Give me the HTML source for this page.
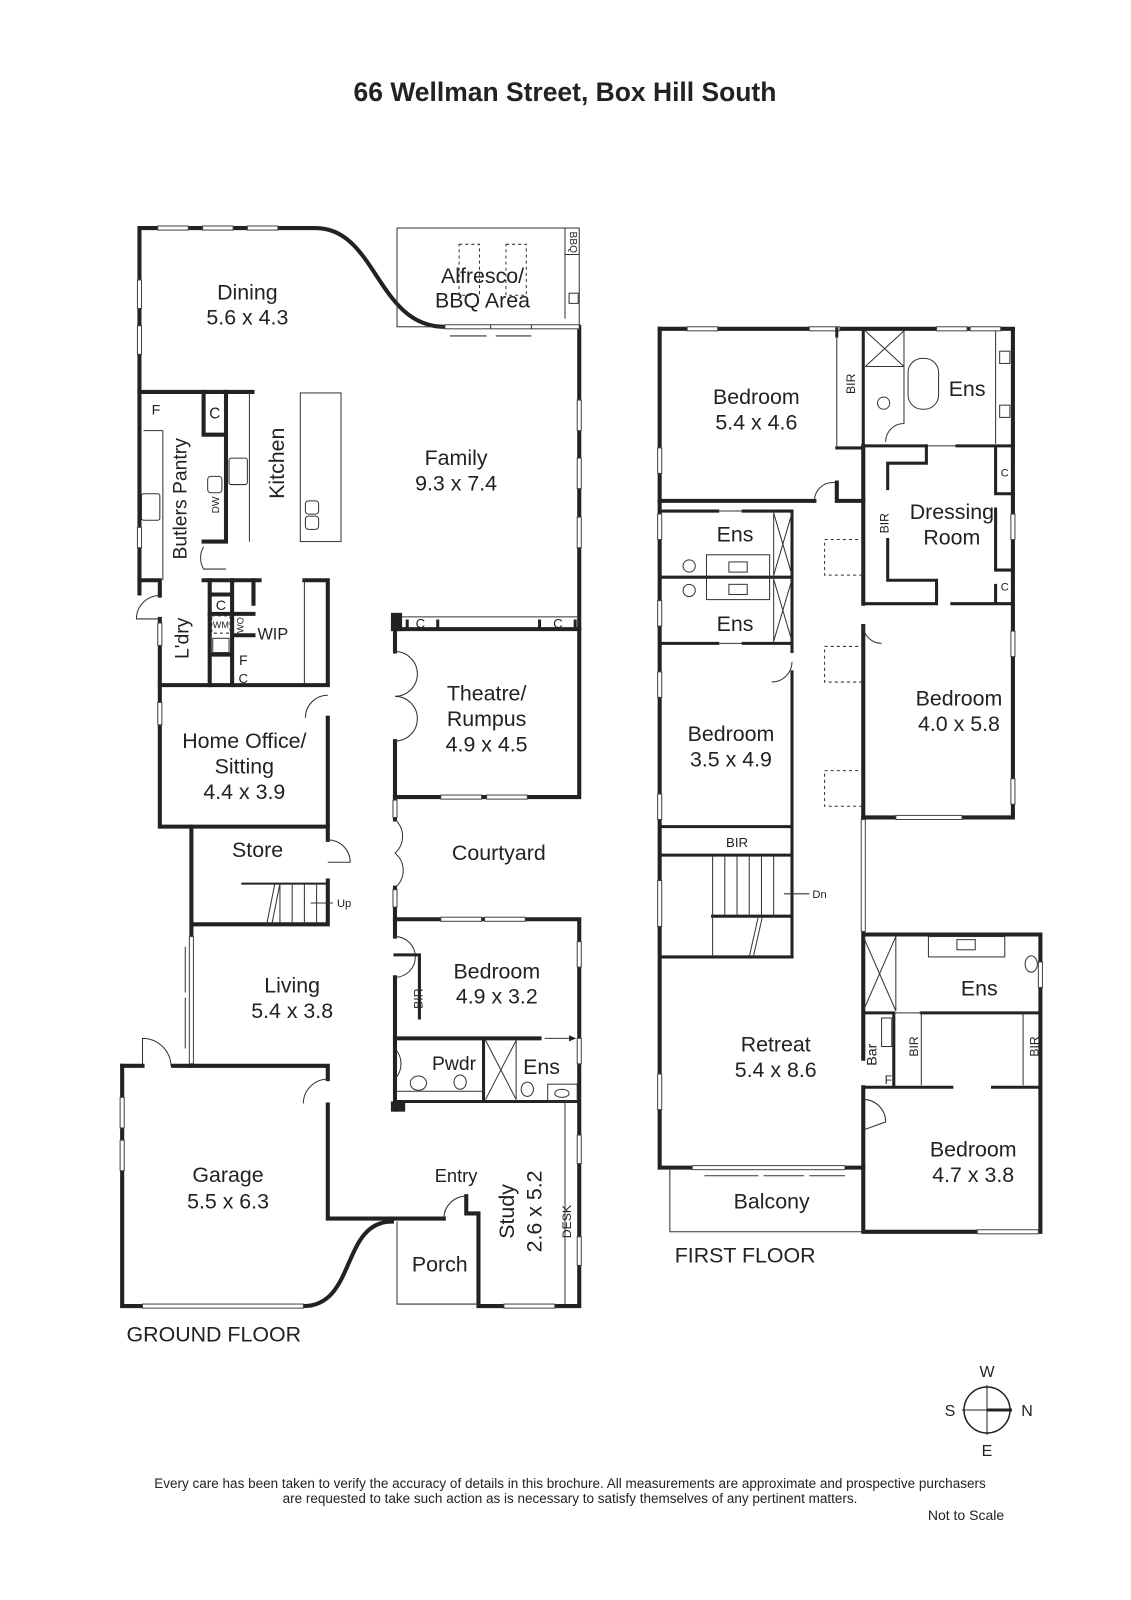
<!DOCTYPE html>
<html><head><meta charset="utf-8"><style>
html,body{margin:0;padding:0;background:#fff}
svg{display:block}
text{font-family:"Liberation Sans",sans-serif;fill:#222}
.w{fill:none;stroke:#222;stroke-width:4;stroke-linecap:square}
.t{fill:none;stroke:#333;stroke-width:1}
.d{fill:none;stroke:#333;stroke-width:1;stroke-dasharray:3 3}
.win{fill:#fff;stroke:#444;stroke-width:1}
.lb{font-size:21px;text-anchor:middle}
.sm{font-size:13px;text-anchor:middle}
</style></head><body>
<svg width="1131" height="1600" viewBox="0 0 1131 1600" xmlns="http://www.w3.org/2000/svg">
<g transform="scale(1.018)">
<text x="555" y="99" style="font-size:26px;font-weight:bold;text-anchor:middle">66 Wellman Street, Box Hill South</text>

<!-- GROUND FLOOR -->
<path class="w" d="M137,583 L137,224 L310,224 C370,224 370,321 437,321"/>
<path class="w" d="M569,321 L569,783 L388,783"/>
<rect class="t" x="390" y="224" width="179" height="97"/>
<line class="t" x1="555" y1="224" x2="555" y2="313"/>
<line class="t" x1="555" y1="250" x2="569" y2="250"/>
<rect class="t" x="559" y="288" width="9" height="10"/>
<rect class="d" x="451" y="240" width="20" height="50"/>
<rect class="d" x="497" y="240" width="20" height="50"/>
<text x="560" y="238" class="sm" style="font-size:10px" transform="rotate(90 560 238)">BBQ</text>
<rect class="win" x="437" y="319" width="132" height="4"/>
<line class="t" x1="482" y1="319" x2="482" y2="323"/>
<line class="t" x1="522" y1="319" x2="522" y2="323"/>
<path class="t" d="M442,330 L478,330 M487,330 L522,330"/>
<rect class="win" x="155" y="222" width="30" height="4"/>
<rect class="win" x="199" y="222" width="30" height="4"/>
<rect class="win" x="243" y="222" width="30" height="4"/>
<rect class="win" x="135" y="275" width="4" height="28"/>
<rect class="win" x="135" y="320" width="4" height="28"/>
<rect class="win" x="135" y="518" width="4" height="20"/>
<rect class="win" x="567" y="393" width="4" height="30"/>
<rect class="win" x="567" y="450" width="4" height="30"/>
<rect class="win" x="567" y="508" width="4" height="30"/>
<!-- kitchen -->
<path class="w" d="M137,385 L248,385"/>
<path class="w" d="M222,385 L222,532 L200,532"/>
<path class="w" d="M200,385 L200,425 M200,427 L222,427"/>
<path class="w" d="M137,570 L157,570 L157,585"/>
<path class="w" d="M200,570 L255,570"/>
<path class="w" d="M299,570 L322,570 L322,672"/>
<line class="t" x1="245" y1="385" x2="245" y2="532"/>
<line class="t" x1="141" y1="423" x2="160" y2="423"/>
<line class="t" x1="160" y1="423" x2="160" y2="570"/>
<line class="t" x1="299" y1="570" x2="299" y2="672"/>
<rect class="t" x="295" y="386" width="40" height="146"/>
<rect class="t" x="300" y="492" width="13" height="13" rx="3"/>
<rect class="t" x="300" y="507" width="13" height="13" rx="3"/>
<rect class="t" x="139" y="485" width="18" height="26" rx="2"/>
<rect class="t" x="225" y="450" width="18" height="26" rx="2"/>
<rect class="t" x="204" y="468" width="14" height="16" rx="3"/>
<text x="149" y="407" style="font-size:14px">F</text>
<text x="211" y="411" class="sm" style="font-size:15px">C</text>
<text x="211" y="500" class="sm" style="font-size:10px" transform="rotate(-90 211 496)">DW</text>
<text x="183" y="490" class="lb" style="font-size:19px" transform="rotate(-90 183 490)">Butlers Pantry</text>
<text x="279" y="455" class="lb" transform="rotate(-90 279 455)">Kitchen</text>
<path class="t" d="M200,537 A22,22 0 0 0 200,559 L222,559"/>
<!-- laundry / WIP -->
<path class="w" d="M206,570 L206,673 M206,584 L228,584 M206,643 L228,643 M228,570 L228,673"/>
<path class="w" d="M206,603 L249,603 M228,624 L249,624 M249,570 L249,593"/>
<path class="w" d="M157,608 L157,673 L322,673"/>
<rect class="d" x="208" y="605" width="18" height="17"/>
<rect class="t" x="209" y="627" width="16" height="14"/>
<text x="217" y="617" class="sm" style="font-size:9px">WM</text>
<text x="239" y="614" class="sm" style="font-size:9px" transform="rotate(-90 239 614)">WO</text>
<text x="217" y="599" class="sm" style="font-size:14px">C</text>
<text x="239" y="653" class="sm" style="font-size:14px">F</text>
<text x="239" y="671" class="sm" style="font-size:13px">C</text>
<text x="268" y="628" class="sm" style="font-size:16px">WIP</text>
<text x="185" y="627" class="lb" style="font-size:19px" transform="rotate(-90 185 627)">L'dry</text>
<path class="t" d="M157,585 A23,23 0 0 0 134,608 L157,608"/>
<rect class="win" x="155" y="612" width="4" height="22"/>
<!-- Home office -->
<path class="w" d="M157,673 L157,812 L322,812 L322,705"/>
<rect class="win" x="155" y="690" width="4" height="22"/>
<path class="t" d="M322,683 A22,22 0 0 0 300,705"/>
<text x="240" y="735" class="lb">Home Office/</text>
<text x="240" y="760" class="lb">Sitting</text>
<text x="240" y="785" class="lb">4.4 x 3.9</text>
<!-- Store -->
<path class="w" d="M188,812 L188,1047 M188,908 L322,908 L322,865 M322,812 L322,825"/>
<path class="t" d="M322,825 A22,22 0 0 1 344,847 L322,847"/>
<path class="w" d="M238,868 L322,868" style="stroke-width:2"/>
<path class="t" d="M275,868 L275,908 M287,868 L287,908 M299,868 L299,908 M311,868 L311,908 M262,908 L270,868 M267,908 L275,868"/>
<path class="t" d="M305,887 L327,887"/>
<text x="331" y="891" style="font-size:11px">Up</text>
<text x="253" y="842" class="lb">Store</text>
<!-- Living -->
<rect class="win" x="186" y="920" width="4" height="125"/>
<path class="t" d="M182,930 L182,975 M182,980 L182,1030"/>
<text x="287" y="975" class="lb">Living</text>
<text x="287" y="1000" class="lb">5.4 x 3.8</text>
<!-- Garage -->
<path class="w" d="M120,1047 L140,1047 M170,1047 L322,1047 L322,1060 M322,1085 L322,1197 L385,1197"/>
<path class="w" d="M120,1047 L120,1283 L298,1283 C350,1283 335,1200 385,1200"/>
<path class="t" d="M140,1047 L140,1020 A28,28 0 0 1 168,1047"/>
<path class="t" d="M322,1060 A24,24 0 0 0 298,1084"/>
<rect class="win" x="118" y="1078" width="4" height="30"/>
<rect class="win" x="118" y="1120" width="4" height="30"/>
<rect class="win" x="140" y="1281" width="158" height="4"/>
<text x="224" y="1161" class="lb">Garage</text>
<text x="224" y="1187" class="lb">5.5 x 6.3</text>
<text x="210" y="1318" class="lb">GROUND FLOOR</text>
<!-- Theatre -->
<path class="w" d="M388,618 L569,618"/>
<rect x="384" y="602" width="11" height="18" fill="#222"/>
<line class="t" x1="395" y1="606" x2="569" y2="606"/>
<path class="w" d="M400,610 L400,618 M430,610 L430,618 M530,610 L530,618 M565,610 L565,618" style="stroke-width:3"/>
<text x="413" y="617" style="font-size:13px" text-anchor="middle">C</text>
<text x="548" y="617" style="font-size:13px" text-anchor="middle">C</text>
<path class="w" d="M388,618 L388,640 M388,728 L388,783"/>
<path class="t" d="M388,640 A22,22 0 0 1 388,684 A22,22 0 0 1 388,728"/>
<rect class="win" x="433" y="781" width="40" height="4"/>
<rect class="win" x="478" y="781" width="40" height="4"/>
<text x="478" y="688" class="lb">Theatre/</text>
<text x="478" y="713" class="lb">Rumpus</text>
<text x="478" y="738" class="lb">4.9 x 4.5</text>
<!-- Courtyard -->
<path class="w" d="M388,783 L388,805 M388,872 L388,903"/>
<rect class="win" x="386" y="786" width="4" height="17"/>
<rect class="win" x="386" y="874" width="4" height="17"/>
<path class="t" d="M388,805 A22,22 0 0 1 388,838 A22,22 0 0 1 388,872"/>
<text x="490" y="845" class="lb">Courtyard</text>
<!-- Bedroom GF -->
<path class="w" d="M388,903 L569,903 L569,1283 L470,1283 L470,1192 L458,1192 L458,1175"/>
<path class="w" d="M388,903 L388,920 M388,960 L388,1090"/>
<path class="t" d="M388,920 A20,20 0 0 1 388,960"/>
<rect class="win" x="433" y="901" width="40" height="4"/>
<rect class="win" x="476" y="901" width="40" height="4"/>
<rect class="win" x="567" y="925" width="4" height="25"/>
<rect class="win" x="567" y="1020" width="4" height="25"/>
<rect class="win" x="567" y="1115" width="4" height="28"/>
<rect class="win" x="567" y="1215" width="4" height="28"/>
<path class="w" d="M388,938 L412,938 L412,1000" style="stroke-width:3"/>
<text x="404" y="1000" class="sm" style="font-size:12px" transform="rotate(-90 400 985)">BIR</text>
<path class="w" d="M388,1020 L530,1020"/>
<path class="t" d="M535,1020 L565,1020"/>
<path d="M566,1020 L559,1017 L559,1023 Z" fill="#222"/>
<text x="488" y="961" class="lb">Bedroom</text>
<text x="488" y="986" class="lb">4.9 x 3.2</text>
<path class="w" d="M388,1082 L569,1082 M475,1020 L475,1082" style="stroke-width:3"/>
<rect x="384" y="1082" width="14" height="10" fill="#222"/>
<path class="t" d="M477,1022 L507,1080 M507,1022 L477,1080 M507,1020 L507,1082"/>
<path class="t" d="M388,1030 A22,22 0 0 1 388,1060"/>
<line class="t" x1="390" y1="1072" x2="475" y2="1072"/>
<ellipse class="t" cx="411" cy="1064" rx="8" ry="7"/>
<ellipse class="t" cx="452" cy="1063" rx="6" ry="7"/>
<ellipse class="t" cx="518" cy="1070" rx="6" ry="7"/>
<rect class="t" x="538" y="1065" width="29" height="17"/>
<ellipse class="t" cx="552" cy="1074" rx="7" ry="4"/>
<text x="446" y="1051" class="lb" style="font-size:19px">Pwdr</text>
<text x="532" y="1055" class="lb">Ens</text>
<line class="t" x1="555" y1="1082" x2="555" y2="1281"/>
<text x="561" y="1200" class="sm" style="font-size:12px" transform="rotate(-90 561 1200)">DESK</text>
<text x="532" y="1190" class="lb" transform="rotate(-90 532 1190)">2.6 x 5.2</text>
<text x="505" y="1190" class="lb" transform="rotate(-90 505 1190)">Study</text>
<rect class="win" x="495" y="1281" width="50" height="4"/>
<!-- Entry/Porch -->
<path class="w" d="M385,1197 L436,1197"/>
<path class="t" d="M436,1197 A22,22 0 0 1 458,1175"/>
<path class="t" d="M390,1200 L390,1281 L470,1281"/>
<text x="448" y="1161" class="lb" style="font-size:18px">Entry</text>
<text x="432" y="1249" class="lb">Porch</text>
<text x="243" y="294" class="lb">Dining</text>
<text x="243" y="319" class="lb">5.6 x 4.3</text>
<text x="474" y="278" class="lb">Alfresco/</text>
<text x="474" y="302" class="lb">BBQ Area</text>
<text x="448" y="457" class="lb">Family</text>
<text x="448" y="482" class="lb">9.3 x 7.4</text>

<!-- FIRST FLOOR -->
<path class="w" d="M648,323 L995,323 L995,803 L848,803"/>
<path class="w" d="M648,323 L648,1147 L848,1147"/>
<path class="w" d="M848,438 L848,593 M848,615 L848,803 M848,915 L848,1040 M848,1068 L848,1210 L1022,1210 L1022,918 L848,918"/>
<rect class="win" x="846" y="805" width="4" height="110"/>
<rect class="win" x="675" y="321" width="30" height="4"/>
<rect class="win" x="795" y="321" width="30" height="4"/>
<rect class="win" x="920" y="321" width="30" height="4"/>
<rect class="win" x="953" y="321" width="30" height="4"/>
<rect class="win" x="646" y="440" width="4" height="25"/>
<rect class="win" x="646" y="505" width="4" height="25"/>
<rect class="win" x="646" y="590" width="4" height="25"/>
<rect class="win" x="646" y="660" width="4" height="25"/>
<rect class="win" x="646" y="780" width="4" height="25"/>
<rect class="win" x="646" y="865" width="4" height="45"/>
<rect class="win" x="646" y="1055" width="4" height="35"/>
<rect class="win" x="993" y="505" width="4" height="25"/>
<rect class="win" x="993" y="620" width="4" height="25"/>
<rect class="win" x="993" y="765" width="4" height="25"/>
<rect class="win" x="880" y="801" width="65" height="4"/>
<rect class="win" x="1020" y="945" width="4" height="25"/>
<rect class="win" x="960" y="1208" width="60" height="4"/>
<rect class="win" x="680" y="1145" width="150" height="4"/>
<path class="t" d="M692,1155 L745,1155 M750,1155 L790,1155 M795,1155 L830,1155"/>
<!-- bedroom 1 -->
<path class="w" d="M648,492 L800,492"/>
<path class="t" d="M800,492 A18,18 0 0 1 818,474 L822,474"/>
<path class="w" d="M822,474 L822,492 L848,492"/>
<path class="w" d="M822,323 L822,330 M822,440 L848,440" style="stroke-width:3"/>
<line class="t" x1="822" y1="330" x2="822" y2="440"/>
<text x="845" y="382" class="sm" style="font-size:12px" transform="rotate(-90 840 382)">BIR</text>
<text x="743" y="397" class="lb">Bedroom</text>
<text x="743" y="422" class="lb">5.4 x 4.6</text>
<!-- ens top right -->
<path class="w" d="M848,323 L848,440 M848,438 L910,438 M940,438 L995,438" style="stroke-width:3"/>
<path class="t" d="M910,438 L940,438"/>
<path class="t" d="M850,325 L888,360 M888,325 L850,360 M850,360 L888,360 M888,325 L888,380"/>
<rect class="t" x="892" y="352" width="30" height="50" rx="14"/>
<ellipse class="t" cx="868" cy="396" rx="6" ry="6"/>
<path class="t" d="M870,434 A18,18 0 0 1 888,416 L888,380"/>
<line class="t" x1="978" y1="325" x2="978" y2="436"/>
<rect class="t" x="982" y="345" width="10" height="12"/>
<rect class="t" x="982" y="398" width="10" height="12"/>
<text x="950" y="389" class="lb">Ens</text>
<!-- dressing -->
<path class="w" d="M848,593 L920,593 M935,593 L995,593 M910,438 L910,455 L872,455 L872,480 M872,530 L872,570 L920,570 L920,593 M978,440 L978,485 M978,500 L978,560 M978,575 L978,593 M978,485 L995,485 M978,560 L995,560" style="stroke-width:3"/>
<text x="870" y="525" class="sm" style="font-size:12px" transform="rotate(-90 866 518)">BIR</text>
<text x="935" y="510" class="lb">Dressing</text>
<text x="935" y="535" class="lb">Room</text>
<text x="987" y="468" class="sm" style="font-size:11px">C</text>
<text x="987" y="580" class="sm" style="font-size:11px">C</text>
<path class="t" d="M848,615 A18,18 0 0 0 866,632"/>
<!-- ensuites left -->
<path class="w" d="M648,502 L705,502 M730,502 L778,502 M778,502 L778,640 M648,632 L705,632 M730,632 L778,632 M648,567 L778,567" style="stroke-width:3"/>
<path class="t" d="M705,502 L730,502 M705,632 L730,632"/>
<path class="t" d="M760,502 L760,632 M760,504 L778,565 M778,504 L760,565 M760,569 L778,630 M778,569 L760,630"/>
<rect class="t" x="694" y="545" width="62" height="44"/>
<rect class="t" x="716" y="552" width="18" height="10"/>
<rect class="t" x="716" y="574" width="18" height="10"/>
<circle class="t" cx="677" cy="556" r="6"/><circle class="t" cx="677" cy="580" r="6"/>
<text x="722" y="532" class="lb">Ens</text>
<text x="722" y="620" class="lb">Ens</text>
<path class="t" d="M778,650 A20,20 0 0 1 758,670"/>
<!-- bedroom 3.5 -->
<path class="w" d="M778,660 L778,940 M648,840 L778,840 M648,812 L778,812" style="stroke-width:3"/>
<text x="724" y="832" class="sm" style="font-size:13px">BIR</text>
<text x="718" y="728" class="lb">Bedroom</text>
<text x="718" y="753" class="lb">3.5 x 4.9</text>
<!-- stairs -->
<path class="w" d="M648,940 L778,940 M700,900 L778,900" style="stroke-width:3"/>
<path class="t" d="M700,840 L700,940 M712,840 L712,900 M724,840 L724,900 M736,840 L736,900 M748,840 L748,900 M760,840 L760,900 M736,940 L745,900 M740,940 L749,900"/>
<path class="t" d="M770,878 L795,878"/>
<text x="798" y="882" style="font-size:11px">Dn</text>
<rect class="d" x="810" y="530" width="37" height="35"/>
<rect class="d" x="810" y="635" width="37" height="35"/>
<rect class="d" x="810" y="757" width="37" height="35"/>
<text x="942" y="693" class="lb">Bedroom</text>
<text x="942" y="718" class="lb">4.0 x 5.8</text>
<!-- Retreat & right bottom -->
<text x="762" y="1033" class="lb">Retreat</text>
<text x="762" y="1058" class="lb">5.4 x 8.6</text>
<text x="758" y="1187" class="lb">Balcony</text>
<path class="t" d="M658,1149 L658,1210 L848,1210"/>
<text x="732" y="1240" class="lb">FIRST FLOOR</text>
<path class="w" d="M848,995 L878,995 M905,995 L1022,995 M848,1068 L935,1068 M975,1068 L1022,1068 M878,995 L878,1068" style="stroke-width:3"/>
<path class="t" d="M848,920 L880,993 M880,920 L848,993 M880,920 L880,993"/>
<path class="t" d="M878,995 L905,995"/>
<rect class="t" x="912" y="920" width="75" height="20"/>
<rect class="t" x="940" y="923" width="18" height="10"/>
<ellipse class="t" cx="1013" cy="947" rx="6" ry="8"/>
<text x="962" y="978" class="lb">Ens</text>
<path class="t" d="M905,995 L905,1066 M1005,995 L1005,1066"/>
<rect class="t" x="866" y="1000" width="10" height="28"/>
<text x="898" y="1040" class="sm" style="font-size:12px" transform="rotate(-90 894 1032)">BIR</text>
<text x="1016" y="1040" class="sm" style="font-size:12px" transform="rotate(-90 1012 1032)">BIR</text>
<text x="860" y="1045" class="sm" style="font-size:14px" transform="rotate(-90 856 1040)">Bar</text>
<text x="869" y="1065" style="font-size:12px">F</text>
<path class="t" d="M848,1080 A22,22 0 0 1 870,1102 L848,1110"/>
<text x="956" y="1136" class="lb">Bedroom</text>
<text x="956" y="1161" class="lb">4.7 x 3.8</text>
</g>

<!-- compass -->
<circle cx="987" cy="1410" r="23" fill="none" stroke="#222" stroke-width="1.5"/>
<line x1="987" y1="1385" x2="987" y2="1435" stroke="#222" stroke-width="1"/>
<line x1="962" y1="1410" x2="987" y2="1410" stroke="#222" stroke-width="1"/>
<line x1="987" y1="1410" x2="1012" y2="1410" stroke="#222" stroke-width="3"/>
<text x="987" y="1377" class="sm" style="font-size:16px">W</text>
<text x="987" y="1456" class="sm" style="font-size:16px">E</text>
<text x="950" y="1416" class="sm" style="font-size:16px">S</text>
<text x="1027" y="1416" class="sm" style="font-size:16px">N</text>
<text x="570" y="1488" class="sm" style="font-size:13.5px">Every care has been taken to verify the accuracy of details in this brochure. All measurements are approximate and prospective purchasers</text>
<text x="570" y="1503" class="sm" style="font-size:13.5px">are requested to take such action as is necessary to satisfy themselves of any pertinent matters.</text>
<text x="966" y="1520" class="sm" style="font-size:14px">Not to Scale</text>
</svg>
</body></html>
